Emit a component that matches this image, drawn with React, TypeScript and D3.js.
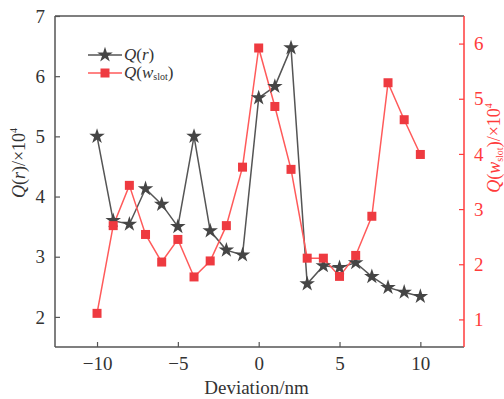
import { useEffect, useRef } from 'react';
import * as d3 from 'd3';

const deviation = [-10, -9, -8, -7, -6, -5, -4, -3, -2, -1, 0, 1, 2, 3, 4, 5, 6, 7, 8, 9, 10];
const qR = [5.0, 3.6, 3.54, 4.13, 3.87, 3.5, 5.0, 3.43, 3.11, 3.03, 5.64, 5.83, 6.47, 2.55, 2.85, 2.82, 2.9, 2.67, 2.49, 2.41, 2.34];
const qSlot = [1.11, 2.7, 3.43, 2.54, 2.04, 2.45, 1.77, 2.06, 2.7, 3.76, 5.92, 4.86, 3.72, 2.11, 2.11, 1.78, 2.16, 2.87, 5.29, 4.62, 3.99];
const xTicks = [-10, -5, 0, 5, 10];
const leftTicks = [2, 3, 4, 5, 6, 7];
const rightTicks = [1, 2, 3, 4, 5, 6];

const W = 504;
const H = 399;
const FONT = '"Liberation Serif", "DejaVu Serif", serif';
const DARK = '#555555';
const RED = '#ff3b3b';
const STAR = '#454545';
const SQUARE = '#ee3a40';

export default function App() {
  const svgRef = useRef<SVGSVGElement>(null);

  useEffect(() => {
    if (!svgRef.current) return;
    document.body.style.margin = '0';
    const svg = d3.select(svgRef.current);
    svg.selectAll('*').remove();

    const margin = { top: 16, right: 40, bottom: 52, left: 55 };
    const x = d3.scaleLinear().domain([-12.6, 12.7]).range([margin.left, W - margin.right]);
    const yL = d3.scaleLinear().domain([1.5, 7]).range([H - margin.bottom, margin.top]);
    const yR = d3.scaleLinear().domain([0.5, 6.5]).range([H - margin.bottom, margin.top]);
    const x0 = margin.left;
    const x1 = W - margin.right;
    const y0 = H - margin.bottom;
    const y1 = margin.top;

    // frame: left, top, bottom dark; right red
    const frame = svg.append('g');
    frame.append('line').attr('x1', x0).attr('x2', x1).attr('y1', y1).attr('y2', y1)
      .attr('stroke', DARK).attr('stroke-width', 1.5);
    frame.append('line').attr('x1', x0).attr('x2', x1).attr('y1', y0).attr('y2', y0)
      .attr('stroke', DARK).attr('stroke-width', 1.5);
    frame.append('line').attr('x1', x0).attr('x2', x0).attr('y1', y1).attr('y2', y0)
      .attr('stroke', DARK).attr('stroke-width', 1.5);
    frame.append('line').attr('x1', x1).attr('x2', x1).attr('y1', y1).attr('y2', y0)
      .attr('stroke', RED).attr('stroke-width', 1.5);

    const styleAxis = (g: d3.Selection<SVGGElement, unknown, null, undefined>, color: string, tickColor: string) => {
      g.select('.domain').remove();
      g.selectAll('.tick line').attr('stroke', tickColor).attr('stroke-width', 1.2);
      g.selectAll('.tick text')
        .attr('fill', color)
        .attr('font-family', FONT)
        .attr('font-size', 19);
    };

    svg.append('g')
      .attr('transform', `translate(0, ${y0})`)
      .call(d3.axisBottom(x).tickValues(xTicks).tickSizeInner(-5).tickPadding(10)
        .tickFormat((d) => (Number(d) < 0 ? '\u2212' + Math.abs(Number(d)) : String(d))))
      .call((g) => styleAxis(g, '#333', DARK));

    svg.append('g')
      .attr('transform', `translate(${x0}, 0)`)
      .call(d3.axisLeft(yL).tickValues(leftTicks).tickSizeInner(-5).tickPadding(10)
        .tickFormat(d3.format('d')))
      .call((g) => styleAxis(g, '#333', DARK));

    svg.append('g')
      .attr('transform', `translate(${x1}, 0)`)
      .call(d3.axisRight(yR).tickValues(rightTicks).tickSizeInner(-5).tickPadding(10)
        .tickFormat(d3.format('d')))
      .call((g) => styleAxis(g, RED, RED));

    // lines
    const lineL = d3.line<number>().x((_, i) => x(deviation[i])).y((d) => yL(d));
    const lineR = d3.line<number>().x((_, i) => x(deviation[i])).y((d) => yR(d));

    svg.append('path').datum(qR)
      .attr('fill', 'none').attr('stroke', '#555').attr('stroke-width', 1.5)
      .attr('d', lineL);
    svg.append('path').datum(qSlot)
      .attr('fill', 'none').attr('stroke', '#ff5a5a').attr('stroke-width', 1.5)
      .attr('d', lineR);

    const star = d3.symbol().type(d3.symbolStar).size(75);
    svg.append('g').selectAll('path').data(qR).join('path')
      .attr('transform', (d, i) => `translate(${x(deviation[i])}, ${yL(d)})`)
      .attr('d', star)
      .attr('fill', STAR);

    svg.append('g').selectAll('rect').data(qSlot).join('rect')
      .attr('x', (_, i) => x(deviation[i]) - 4.5)
      .attr('y', (d) => yR(d) - 4.5)
      .attr('width', 9).attr('height', 9)
      .attr('fill', SQUARE);

    // legend
    const lg = svg.append('g');
    lg.append('line').attr('x1', 88).attr('x2', 122).attr('y1', 55).attr('y2', 55)
      .attr('stroke', '#555').attr('stroke-width', 1.5);
    lg.append('path').attr('transform', 'translate(105, 55)').attr('d', star).attr('fill', STAR);
    lg.append('line').attr('x1', 88).attr('x2', 122).attr('y1', 73).attr('y2', 73)
      .attr('stroke', '#ff5a5a').attr('stroke-width', 1.5);
    lg.append('rect').attr('x', 100.5).attr('y', 68.5).attr('width', 9).attr('height', 9).attr('fill', SQUARE);

    const t1 = lg.append('text').attr('x', 124).attr('y', 60)
      .attr('font-family', FONT).attr('font-size', 17).attr('fill', '#333');
    t1.append('tspan').attr('font-style', 'italic').text('Q');
    t1.append('tspan').text('(');
    t1.append('tspan').attr('font-style', 'italic').text('r');
    t1.append('tspan').text(')');

    const t2 = lg.append('text').attr('x', 124).attr('y', 78)
      .attr('font-family', FONT).attr('font-size', 17).attr('fill', '#333');
    t2.append('tspan').attr('font-style', 'italic').text('Q');
    t2.append('tspan').text('(');
    t2.append('tspan').attr('font-style', 'italic').text('w');
    t2.append('tspan').attr('font-size', 10).attr('dy', 2).text('slot');
    t2.append('tspan').attr('dy', -2).text(')');

    // axis titles
    svg.append('text')
      .attr('x', (x0 + x1) / 2 - 3).attr('y', 394)
      .attr('text-anchor', 'middle')
      .attr('font-family', FONT).attr('font-size', 19).attr('fill', '#333')
      .text('Deviation/nm');

    const lt = svg.append('text')
      .attr('transform', 'translate(25, 163) rotate(-90)')
      .attr('text-anchor', 'middle')
      .attr('font-family', FONT).attr('font-size', 18).attr('fill', '#333');
    lt.append('tspan').attr('font-style', 'italic').text('Q');
    lt.append('tspan').text('(');
    lt.append('tspan').attr('font-style', 'italic').text('r');
    lt.append('tspan').text(')/×10');
    lt.append('tspan').attr('font-size', 10).attr('dy', -8).text('4');

    const rt = svg.append('text')
      .attr('transform', 'translate(500, 148) rotate(-90)')
      .attr('text-anchor', 'middle')
      .attr('font-family', FONT).attr('font-size', 18).attr('fill', RED);
    rt.append('tspan').attr('font-style', 'italic').text('Q');
    rt.append('tspan').text('(');
    rt.append('tspan').attr('font-style', 'italic').text('w');
    rt.append('tspan').attr('font-size', 10).attr('dy', 3).text('slot');
    rt.append('tspan').attr('dy', -3).text(')/×10');
    rt.append('tspan').attr('font-size', 10).attr('dy', -8).text('4');
  }, []);

  return (
    <svg ref={svgRef} width={W} height={H} style={{ display: 'block', background: '#fff' }} />
  );
}
